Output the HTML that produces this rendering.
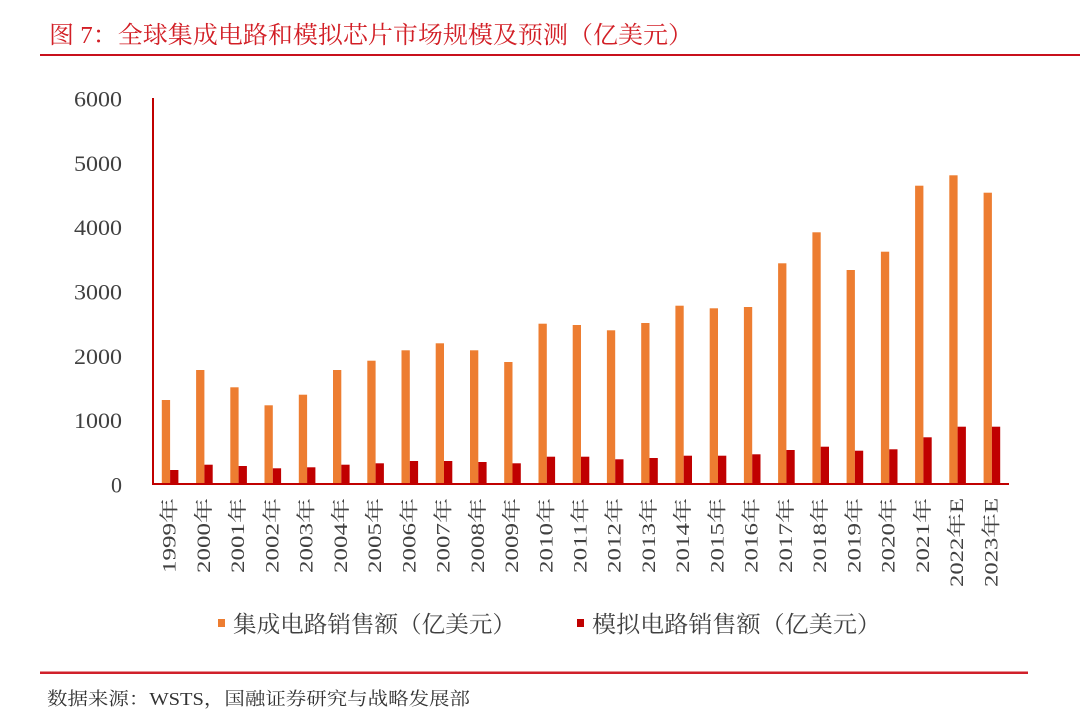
<!DOCTYPE html>
<html><head><meta charset="utf-8"><style>
html,body{margin:0;padding:0;background:#fff;}
svg{display:block;}
</style></head><body>
<svg width="1080" height="719" viewBox="0 0 1080 719" xmlns="http://www.w3.org/2000/svg">
<rect width="1080" height="719" fill="#fff"/>
<text x="49" y="43" font-family="'Liberation Serif','Noto Serif CJK SC',serif" font-size="24" fill="#d21f26" textLength="644" lengthAdjust="spacingAndGlyphs">图 7：全球集成电路和模拟芯片市场规模及预测（亿美元）</text>
<rect x="40" y="54" width="1040" height="2" fill="#c8101c"/>

<g font-family="'Liberation Serif','Noto Serif CJK SC',serif" font-size="22" fill="#404040" text-anchor="end">
<text x="122" y="485" dominant-baseline="central">0</text>
<text x="122" y="420.7" dominant-baseline="central" textLength="48" lengthAdjust="spacingAndGlyphs">1000</text>
<text x="122" y="356.3" dominant-baseline="central" textLength="48" lengthAdjust="spacingAndGlyphs">2000</text>
<text x="122" y="292" dominant-baseline="central" textLength="48" lengthAdjust="spacingAndGlyphs">3000</text>
<text x="122" y="227.7" dominant-baseline="central" textLength="48" lengthAdjust="spacingAndGlyphs">4000</text>
<text x="122" y="163.3" dominant-baseline="central" textLength="48" lengthAdjust="spacingAndGlyphs">5000</text>
<text x="122" y="99" dominant-baseline="central" textLength="48" lengthAdjust="spacingAndGlyphs">6000</text>
</g>

<g fill="#ED7D31">
<rect x="161.8" y="400" width="8.3" height="84"/>
<rect x="196.1" y="370" width="8.3" height="114"/>
<rect x="230.3" y="387.3" width="8.3" height="96.7"/>
<rect x="264.5" y="405.3" width="8.3" height="78.7"/>
<rect x="298.8" y="394.7" width="8.3" height="89.3"/>
<rect x="333.0" y="370" width="8.3" height="114"/>
<rect x="367.3" y="360.7" width="8.3" height="123.3"/>
<rect x="401.5" y="350.3" width="8.3" height="133.7"/>
<rect x="435.7" y="343.3" width="8.3" height="140.7"/>
<rect x="470.0" y="350.3" width="8.3" height="133.7"/>
<rect x="504.2" y="362" width="8.3" height="122"/>
<rect x="538.5" y="323.7" width="8.3" height="160.3"/>
<rect x="572.7" y="325" width="8.3" height="159"/>
<rect x="606.9" y="330.3" width="8.3" height="153.7"/>
<rect x="641.2" y="323" width="8.3" height="161"/>
<rect x="675.4" y="305.7" width="8.3" height="178.3"/>
<rect x="709.7" y="308.3" width="8.3" height="175.7"/>
<rect x="743.9" y="307" width="8.3" height="177"/>
<rect x="778.1" y="263.3" width="8.3" height="220.7"/>
<rect x="812.4" y="232.3" width="8.3" height="251.7"/>
<rect x="846.6" y="270" width="8.3" height="214"/>
<rect x="880.9" y="251.7" width="8.3" height="232.3"/>
<rect x="915.1" y="185.7" width="8.3" height="298.3"/>
<rect x="949.3" y="175.3" width="8.3" height="308.7"/>
<rect x="983.6" y="192.7" width="8.3" height="291.3"/>
</g>
<g fill="#C00000">
<rect x="170.1" y="470" width="8.3" height="14"/>
<rect x="204.4" y="464.7" width="8.3" height="19.3"/>
<rect x="238.6" y="466" width="8.3" height="18"/>
<rect x="272.8" y="468.3" width="8.3" height="15.7"/>
<rect x="307.1" y="467.3" width="8.3" height="16.7"/>
<rect x="341.3" y="464.7" width="8.3" height="19.3"/>
<rect x="375.6" y="463.3" width="8.3" height="20.7"/>
<rect x="409.8" y="461" width="8.3" height="23"/>
<rect x="444.0" y="461" width="8.3" height="23"/>
<rect x="478.3" y="462" width="8.3" height="22"/>
<rect x="512.5" y="463.3" width="8.3" height="20.7"/>
<rect x="546.8" y="456.7" width="8.3" height="27.3"/>
<rect x="581.0" y="456.7" width="8.3" height="27.3"/>
<rect x="615.2" y="459.3" width="8.3" height="24.7"/>
<rect x="649.5" y="458" width="8.3" height="26"/>
<rect x="683.7" y="455.7" width="8.3" height="28.3"/>
<rect x="718.0" y="455.7" width="8.3" height="28.3"/>
<rect x="752.2" y="454.3" width="8.3" height="29.7"/>
<rect x="786.4" y="450" width="8.3" height="34"/>
<rect x="820.7" y="446.7" width="8.3" height="37.3"/>
<rect x="854.9" y="450.7" width="8.3" height="33.3"/>
<rect x="889.2" y="449.3" width="8.3" height="34.7"/>
<rect x="923.4" y="437.3" width="8.3" height="46.7"/>
<rect x="957.6" y="426.7" width="8.3" height="57.3"/>
<rect x="991.9" y="426.7" width="8.3" height="57.3"/>
</g>

<line x1="153" y1="98" x2="153" y2="485" stroke="#c00000" stroke-width="2"/>
<line x1="152" y1="484" x2="1009" y2="484" stroke="#c00000" stroke-width="2"/>

<g font-family="'Liberation Serif','Noto Serif CJK SC',serif" font-size="19" fill="#404040" text-anchor="end">
<text transform="translate(170.1,498) rotate(-90)" dominant-baseline="central" textLength="75" lengthAdjust="spacingAndGlyphs">1999年</text>
<text transform="translate(204.4,498) rotate(-90)" dominant-baseline="central" textLength="75" lengthAdjust="spacingAndGlyphs">2000年</text>
<text transform="translate(238.6,498) rotate(-90)" dominant-baseline="central" textLength="75" lengthAdjust="spacingAndGlyphs">2001年</text>
<text transform="translate(272.8,498) rotate(-90)" dominant-baseline="central" textLength="75" lengthAdjust="spacingAndGlyphs">2002年</text>
<text transform="translate(307.1,498) rotate(-90)" dominant-baseline="central" textLength="75" lengthAdjust="spacingAndGlyphs">2003年</text>
<text transform="translate(341.3,498) rotate(-90)" dominant-baseline="central" textLength="75" lengthAdjust="spacingAndGlyphs">2004年</text>
<text transform="translate(375.6,498) rotate(-90)" dominant-baseline="central" textLength="75" lengthAdjust="spacingAndGlyphs">2005年</text>
<text transform="translate(409.8,498) rotate(-90)" dominant-baseline="central" textLength="75" lengthAdjust="spacingAndGlyphs">2006年</text>
<text transform="translate(444.0,498) rotate(-90)" dominant-baseline="central" textLength="75" lengthAdjust="spacingAndGlyphs">2007年</text>
<text transform="translate(478.3,498) rotate(-90)" dominant-baseline="central" textLength="75" lengthAdjust="spacingAndGlyphs">2008年</text>
<text transform="translate(512.5,498) rotate(-90)" dominant-baseline="central" textLength="75" lengthAdjust="spacingAndGlyphs">2009年</text>
<text transform="translate(546.8,498) rotate(-90)" dominant-baseline="central" textLength="75" lengthAdjust="spacingAndGlyphs">2010年</text>
<text transform="translate(581.0,498) rotate(-90)" dominant-baseline="central" textLength="75" lengthAdjust="spacingAndGlyphs">2011年</text>
<text transform="translate(615.2,498) rotate(-90)" dominant-baseline="central" textLength="75" lengthAdjust="spacingAndGlyphs">2012年</text>
<text transform="translate(649.5,498) rotate(-90)" dominant-baseline="central" textLength="75" lengthAdjust="spacingAndGlyphs">2013年</text>
<text transform="translate(683.7,498) rotate(-90)" dominant-baseline="central" textLength="75" lengthAdjust="spacingAndGlyphs">2014年</text>
<text transform="translate(718.0,498) rotate(-90)" dominant-baseline="central" textLength="75" lengthAdjust="spacingAndGlyphs">2015年</text>
<text transform="translate(752.2,498) rotate(-90)" dominant-baseline="central" textLength="75" lengthAdjust="spacingAndGlyphs">2016年</text>
<text transform="translate(786.4,498) rotate(-90)" dominant-baseline="central" textLength="75" lengthAdjust="spacingAndGlyphs">2017年</text>
<text transform="translate(820.7,498) rotate(-90)" dominant-baseline="central" textLength="75" lengthAdjust="spacingAndGlyphs">2018年</text>
<text transform="translate(854.9,498) rotate(-90)" dominant-baseline="central" textLength="75" lengthAdjust="spacingAndGlyphs">2019年</text>
<text transform="translate(889.2,498) rotate(-90)" dominant-baseline="central" textLength="75" lengthAdjust="spacingAndGlyphs">2020年</text>
<text transform="translate(923.4,498) rotate(-90)" dominant-baseline="central" textLength="75" lengthAdjust="spacingAndGlyphs">2021年</text>
<text transform="translate(957.6,498) rotate(-90)" dominant-baseline="central" textLength="89" lengthAdjust="spacingAndGlyphs">2022年E</text>
<text transform="translate(991.9,498) rotate(-90)" dominant-baseline="central" textLength="89" lengthAdjust="spacingAndGlyphs">2023年E</text>
</g>

<rect x="218" y="619" width="7" height="8" fill="#ED7D31"/>
<text x="233" y="632" font-family="'Liberation Serif','Noto Serif CJK SC',serif" font-size="23" fill="#404040" textLength="283" lengthAdjust="spacingAndGlyphs">集成电路销售额（亿美元）</text>
<rect x="577" y="619" width="7" height="8" fill="#C00000"/>
<text x="592" y="632" font-family="'Liberation Serif','Noto Serif CJK SC',serif" font-size="23" fill="#404040" textLength="289" lengthAdjust="spacingAndGlyphs">模拟电路销售额（亿美元）</text>

<rect x="40" y="671.5" width="988" height="2.5" fill="#d0202a"/>
<text x="47" y="705" font-family="'Liberation Serif','Noto Serif CJK SC',serif" font-size="18" fill="#333" textLength="423" lengthAdjust="spacingAndGlyphs">数据来源：WSTS，国融证券研究与战略发展部</text>
</svg>
</body></html>
